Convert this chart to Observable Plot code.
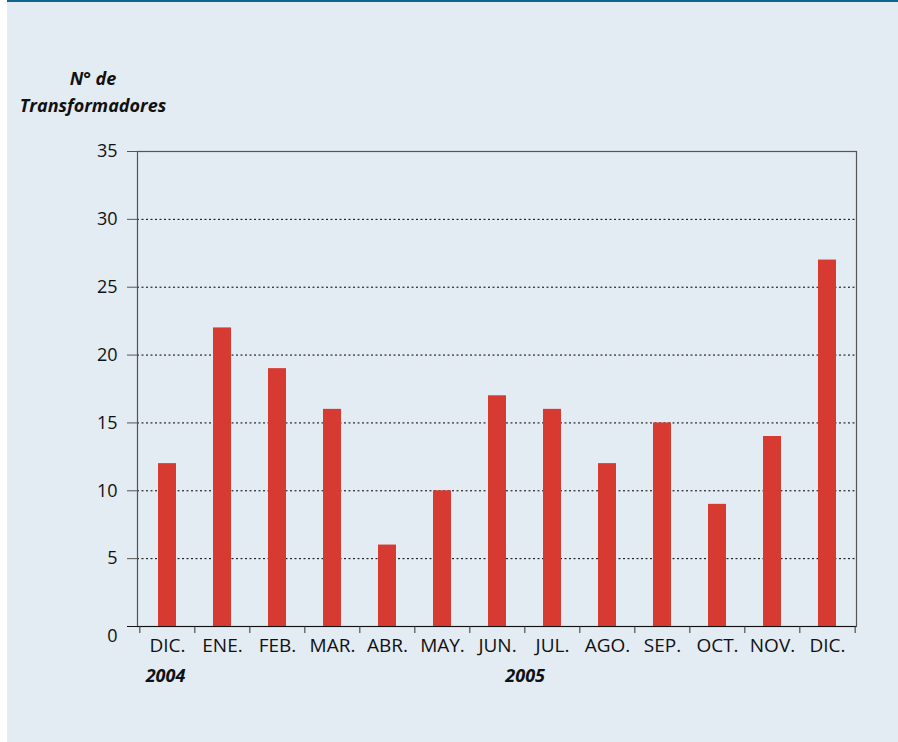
<!DOCTYPE html>
<html>
<head>
<meta charset="utf-8">
<script src="https://cdn.jsdelivr.net/npm/d3@7"></script>
<script src="https://cdn.jsdelivr.net/npm/@observablehq/plot@0.6"></script>
<style>
  html, body { margin: 0; padding: 0; background: #ffffff; }
  #panel {
    position: absolute; left: 7px; top: 0; width: 891px; height: 740px;
    background: #e3ebf3; border-top: 2px solid #0b6790;
    font-family: "Open Sans", Lato, sans-serif;
  }
  #ytitle {
    position: absolute; left: 0; width: 172px; top: 63px;
    text-align: center; font-weight: bold; font-style: italic;
    font-size: 18px; line-height: 27px; color: #111;
  }
  #chart { position: absolute; left: 0; top: 0; }
</style>
</head>
<body>
<div id="panel">
  <div id="chart"></div>
  <div id="ytitle">N° de<br>Transformadores</div>
</div>
<script>
const months = ["DIC.", "ENE.", "FEB.", "MAR.", "ABR.", "MAY.", "JUN.", "JUL.", "AGO.", "SEP.", "OCT.", "NOV.", "DIC."];
const values = [12, 22, 19, 16, 6, 10, 17, 16, 12, 15, 9, 14, 27];
const year2004 = [{i: 0, label: "2004"}];
const year2005 = [{i: 6, label: "2005"}];
const yTicks = [5, 10, 15, 20, 25, 30, 35];
const gridTicks = [5, 10, 15, 20, 25, 30];

const idx = months.map((_, i) => i);
const data = idx.map(i => ({i, month: months[i], value: values[i]}));

const W = 891, H = 740, mL = 130, mR = 42;
const step = (W - mL - mR) / months.length;
const font = "'Open Sans', Lato, sans-serif";

const plot = Plot.plot({
  width: W,
  height: H,
  marginLeft: mL,
  marginRight: mR,
  marginTop: 149,
  marginBottom: 116,
  style: {background: "transparent", fontFamily: font, fontSize: "18px", color: "#111"},
  x: {domain: idx, paddingInner: 0.675, paddingOuter: 0.3375, label: null},
  y: {domain: [0, 35], label: null},
  marks: [
    Plot.gridY(gridTicks, {stroke: "#000", strokeOpacity: 1, strokeDasharray: "2,2.5", strokeWidth: 1}),
    Plot.barY(data, {x: "i", y: "value", fill: "#d63a30"}),
    Plot.frame({stroke: "#555", strokeWidth: 1.2}),
    Plot.ruleY([0], {stroke: "#111", strokeWidth: 1.2}),
    Plot.axisY(yTicks, {tickSize: 10, tickPadding: 10, stroke: "#555", fontSize: 18, fill: "#111", label: null}),
    Plot.axisY([0], {tickSize: 10, tickPadding: 10, stroke: "#111", tickFormat: () => "", label: null}),
    Plot.axisY([0], {tickSize: 0, tickPadding: 20, dy: 10, fontSize: 18, fill: "#111", label: null}),
    Plot.axisX(idx, {tickSize: 7, tickFormat: () => "", dx: -step / 2, stroke: "#333", label: null}),
    Plot.axisX([12], {tickSize: 7, tickFormat: () => "", dx: step / 2, stroke: "#333", label: null}),
    Plot.axisX(idx, {tickSize: 0, tickPadding: 12, tickFormat: i => months[i], fontSize: 19, fill: "#111", label: null}),
    Plot.text(year2004, {
      x: "i", y: 0, text: "label", dy: 50, dx: -2,
      fontSize: 18, fontWeight: "bold", fontStyle: "italic", fill: "#111"
    }),
    Plot.text(year2005, {
      x: "i", y: 0, text: "label", dy: 50, dx: step / 2,
      fontSize: 18, fontWeight: "bold", fontStyle: "italic", fill: "#111"
    })
  ]
});
document.getElementById("chart").appendChild(plot);
</script>
</body>
</html>
